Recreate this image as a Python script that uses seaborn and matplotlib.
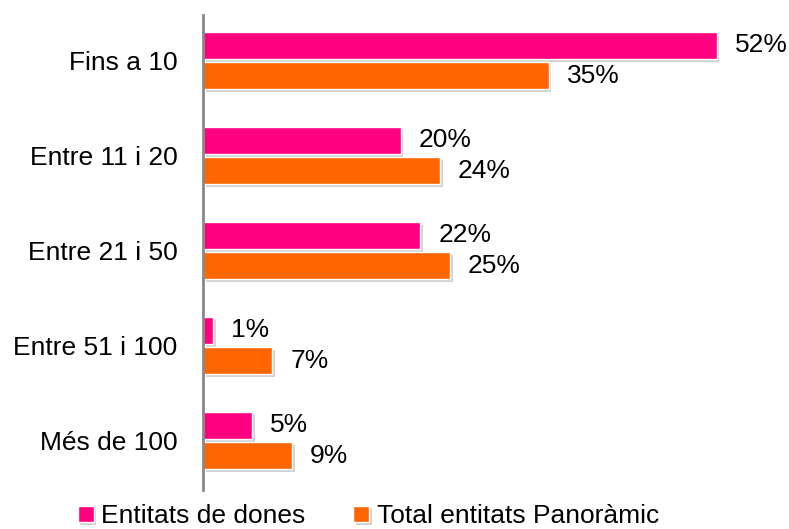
import pandas as pd
import matplotlib.pyplot as plt
import matplotlib.patheffects as pe
import seaborn as sns

# --- DADES ---
categories = ['Fins a 10', 'Entre 11 i 20', 'Entre 21 i 50', 'Entre 51 i 100', 'Més de 100']
entitats_dones = [52, 20, 22, 1, 5]
total_panoramic = [35, 24, 25, 7, 9]
series = ['Entitats de dones', 'Total entitats Panoràmic']
colors = ['#FF0080', '#FF6600']

df = pd.DataFrame({
    'categoria': categories * 2,
    'valor': entitats_dones + total_panoramic,
    'serie': [series[0]] * len(categories) + [series[1]] * len(categories),
})

sns.set_style('white')
plt.rcParams['font.family'] = ['Liberation Sans', 'DejaVu Sans']
plt.rcParams['text.color'] = 'black'
plt.rcParams['ytick.color'] = 'black'

fig = plt.figure(figsize=(7.89, 5.29), dpi=100)
ax = fig.add_axes([0.2573, 0.0737, 0.731, 0.8979])

sns.barplot(data=df, y='categoria', x='valor', hue='serie', order=categories,
            hue_order=series, palette=colors, orient='h', width=0.64, gap=0.12,
            saturation=1, ax=ax, legend=True)

# ombra suau a les barres
for patch in ax.patches:
    patch.set_path_effects([pe.SimplePatchShadow(offset=(2, -2), shadow_rgbFace='#999999', alpha=0.45),
                            pe.Normal()])

# etiquetes de percentatge
for cont in ax.containers:
    ax.bar_label(cont, labels=[f'{v:.0f}%' for v in cont.datavalues], padding=13,
                 fontsize=19, color='black')

ax.set_xlim(0, 58.4)
ax.set_ylim(4.52, -0.48)
ax.set_xlabel('')
ax.set_ylabel('')
ax.set_xticks([])
ax.tick_params(axis='y', length=0, pad=18.5, labelsize=19, labelcolor='black')

for s in ['top', 'right', 'bottom']:
    ax.spines[s].set_visible(False)
ax.spines['left'].set_color('#888888')
ax.spines['left'].set_linewidth(2)

leg = ax.legend(loc='center', bbox_to_anchor=(0.467, 0.024), bbox_transform=fig.transFigure,
                ncol=2, frameon=False, fontsize=19, handlelength=0.6, handleheight=0.6,
                handletextpad=0.3, columnspacing=1.8, borderaxespad=0, borderpad=0)
for t in leg.get_texts():
    t.set_color('black')

fig.savefig('out.png', dpi=100)
